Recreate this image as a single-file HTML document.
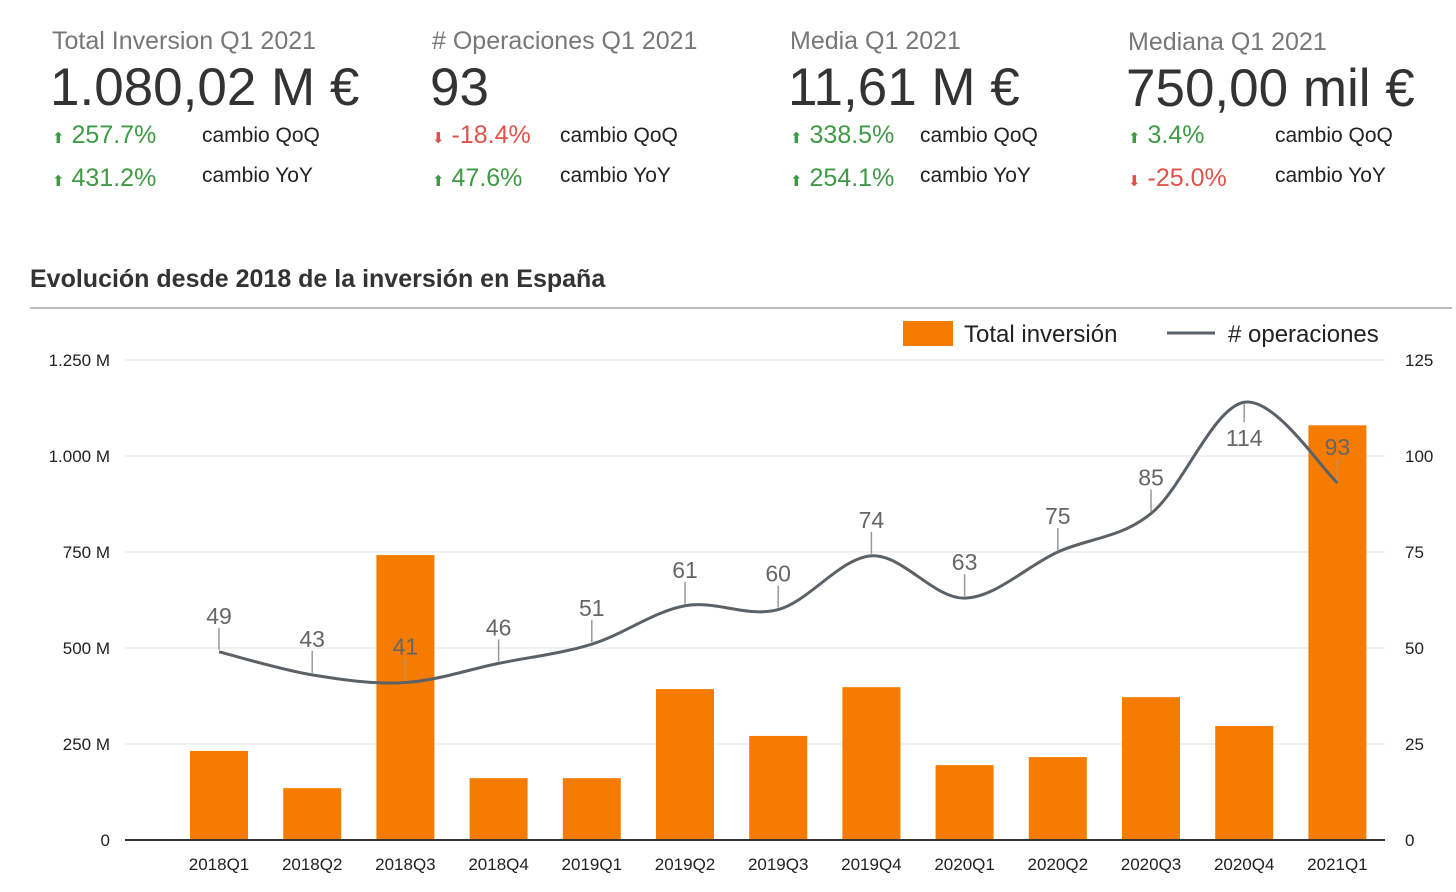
<!DOCTYPE html>
<html><head><meta charset="utf-8">
<style>
body{margin:0;width:1456px;height:892px;background:#fff;font-family:"Liberation Sans",sans-serif;overflow:hidden;position:relative}
.k{position:absolute}
.kt{font-size:25px;color:#777}
.kv{font-size:53px;color:#333;line-height:1}
.up{color:#3f9a46;font-size:25px}
.dn{color:#e0524a;font-size:25px}
.lb{font-size:21px;color:#222}
.ar{font-size:15px}
</style></head><body>
<div class="k kt" style="left:52px;top:27px">Total Inversion Q1 2021</div>
<div class="k kv" style="left:50px;top:61px">1.080,02 M €</div>
<div class="k up" style="left:52px;top:121px"><span class="ar">⬆</span> 257.7%</div>
<div class="k lb" style="left:202px;top:124px">cambio QoQ</div>
<div class="k up" style="left:52px;top:164px"><span class="ar">⬆</span> 431.2%</div>
<div class="k lb" style="left:202px;top:164px">cambio YoY</div>

<div class="k kt" style="left:432px;top:27px"># Operaciones Q1 2021</div>
<div class="k kv" style="left:430px;top:61px">93</div>
<div class="k dn" style="left:432px;top:121px"><span class="ar">⬇</span> -18.4%</div>
<div class="k lb" style="left:560px;top:124px">cambio QoQ</div>
<div class="k up" style="left:432px;top:164px"><span class="ar">⬆</span> 47.6%</div>
<div class="k lb" style="left:560px;top:164px">cambio YoY</div>

<div class="k kt" style="left:790px;top:27px">Media Q1 2021</div>
<div class="k kv" style="left:788px;top:61px">11,61 M €</div>
<div class="k up" style="left:790px;top:121px"><span class="ar">⬆</span> 338.5%</div>
<div class="k lb" style="left:920px;top:124px">cambio QoQ</div>
<div class="k up" style="left:790px;top:164px"><span class="ar">⬆</span> 254.1%</div>
<div class="k lb" style="left:920px;top:164px">cambio YoY</div>

<div class="k kt" style="left:1128px;top:28px">Mediana Q1 2021</div>
<div class="k kv" style="left:1126px;top:62px">750,00 mil €</div>
<div class="k up" style="left:1128px;top:121px"><span class="ar">⬆</span> 3.4%</div>
<div class="k lb" style="left:1275px;top:124px">cambio QoQ</div>
<div class="k dn" style="left:1128px;top:164px"><span class="ar">⬇</span> -25.0%</div>
<div class="k lb" style="left:1275px;top:164px">cambio YoY</div>

<div class="k" style="left:30px;top:265px;font-size:25px;font-weight:bold;color:#333">Evolución desde 2018 de la inversión en España</div>
<div class="k" style="left:30px;top:307px;width:1422px;height:2px;background:#bbb"></div>

<svg id="c" class="k" style="left:0;top:0" width="1456" height="892"></svg>
<script>
const categories=["2018Q1","2018Q2","2018Q3","2018Q4","2019Q1","2019Q2","2019Q3","2019Q4","2020Q1","2020Q2","2020Q3","2020Q4","2021Q1"];
const investment=[232,135,742,161,161,393,271,398,195,216,372,297,1080];
const operations=[49,43,41,46,51,61,60,74,63,75,85,114,93];
const leftTicks=[0,250,500,750,1000,1250];
const leftTickLabels=["0","250 M","500 M","750 M","1.000 M","1.250 M"];
const rightTicks=[0,25,50,75,100,125];

const NS="http://www.w3.org/2000/svg";
const svg=document.getElementById('c');
const y0=840,yTop=360,x0=125,x1=1385;
const yL=v=>y0-(v/1250)*(y0-yTop);
const yR=v=>y0-(v/125)*(y0-yTop);
const step=93.2, xC=i=>219+i*step;
function mk(t,a,txt){const e=document.createElementNS(NS,t);for(const k in a)e.setAttribute(k,a[k]);if(txt!==undefined)e.textContent=txt;svg.appendChild(e);return e;}
leftTicks.forEach((v,i)=>{
  if(v>0){const g=mk('line',{x1:x0,x2:x1,y1:yL(v),y2:yL(v),stroke:'#e6e6e6','stroke-width':1});
  
  }
  const t=mk('text',{x:110,y:yL(v)+6,'text-anchor':'end','font-size':17,fill:'#222','font-family':'Liberation Sans'},leftTickLabels[i]);
  
  
});
rightTicks.forEach(v=>{
  const t=mk('text',{x:1405,y:yR(v)+6,'font-size':17,fill:'#222','font-family':'Liberation Sans'},String(v));
  
  
});
categories.forEach((c,i)=>{
  const b=mk('rect',{x:xC(i)-29,y:yL(investment[i]),width:58,height:y0-yL(investment[i]),fill:'#f57c00'});
  
  
  const t=mk('text',{x:xC(i),y:870,'text-anchor':'middle','font-size':17,fill:'#222','font-family':'Liberation Sans'},c);
  
  
});
const ax=mk('line',{x1:x0,x2:x1,y1:y0,y2:y0,stroke:'#333','stroke-width':2});


const pts=operations.map((v,i)=>[xC(i),yR(v)]);
let d='M'+pts[0][0]+','+pts[0][1];
for(let i=0;i<pts.length-1;i++){
  const p0=pts[Math.max(0,i-1)],p1=pts[i],p2=pts[i+1],p3=pts[Math.min(pts.length-1,i+2)];
  const c1=[p1[0]+(p2[0]-p0[0])/6,p1[1]+(p2[1]-p0[1])/6],c2=[p2[0]-(p3[0]-p1[0])/6,p2[1]-(p3[1]-p1[1])/6];
  d+=` C${c1[0]},${c1[1]} ${c2[0]},${c2[1]} ${p2[0]},${p2[1]}`;
}
const ln=mk('path',{d:d,fill:'none',stroke:'#5a6168','stroke-width':3});


const maxOps=Math.max(...operations);
operations.forEach((v,i)=>{
  const y=yR(v);
  const below=(v===maxOps);
  const tk=mk('line',{x1:xC(i),x2:xC(i),y1:below?y+2:y-24,y2:below?y+20:y-2,stroke:'#999','stroke-width':1.5});
  
  
  const t=mk('text',{x:xC(i),y:below?y+44:y-28,'text-anchor':'middle','font-size':23,fill:'#666','font-family':'Liberation Sans'},String(v));
  
  
});
const lr=mk('rect',{x:903,y:321,width:50,height:25,fill:'#f57c00'});


const lt=mk('text',{x:964,y:342,'font-size':24,fill:'#222','font-family':'Liberation Sans'},'Total inversión');


const ll=mk('line',{x1:1167,x2:1215,y1:333,y2:333,stroke:'#5a6168','stroke-width':3});


const lt2=mk('text',{x:1228,y:342,'font-size':24,fill:'#222','font-family':'Liberation Sans'},'# operaciones');


</script>
</body></html>
